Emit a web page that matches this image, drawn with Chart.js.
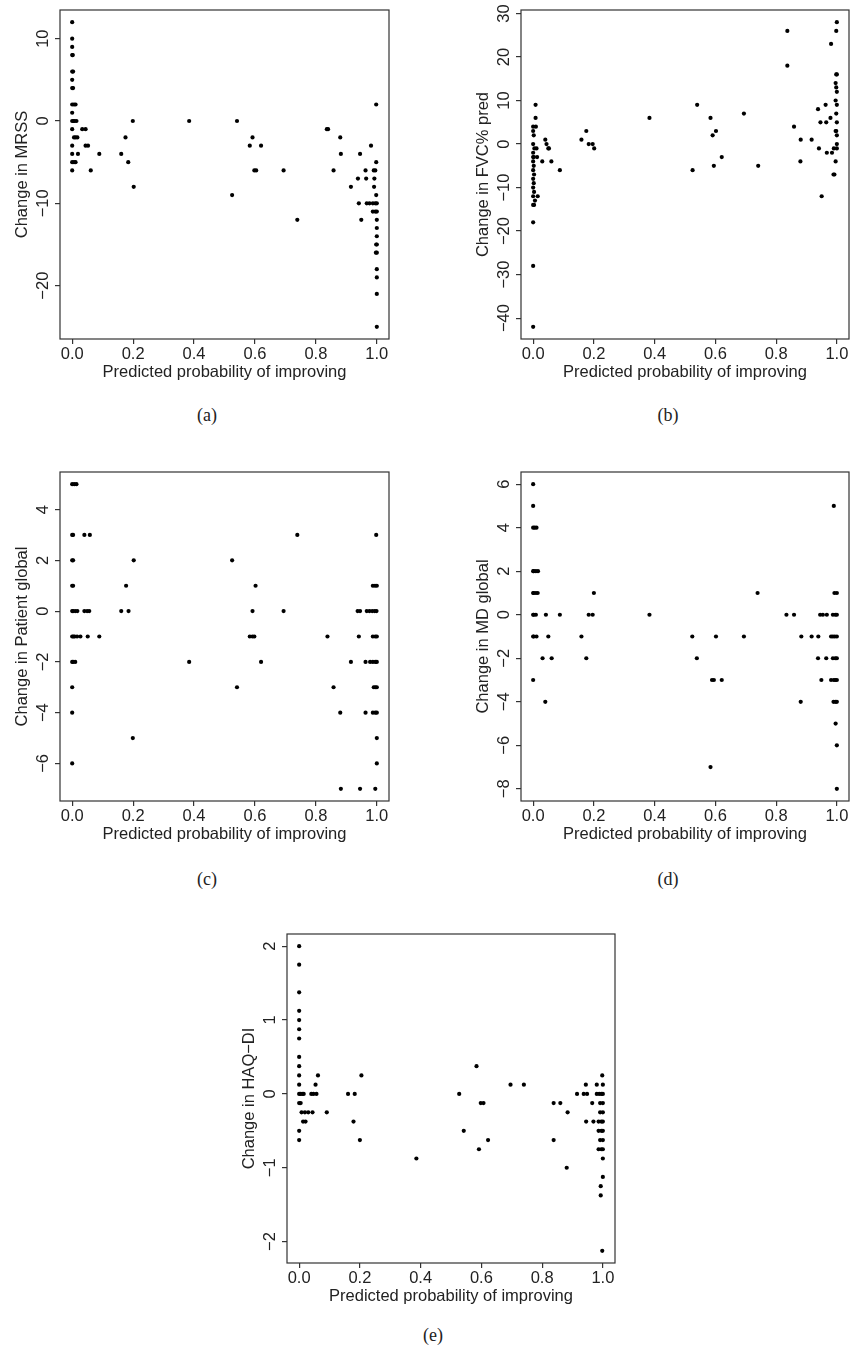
<!DOCTYPE html>
<html>
<head>
  <title>Change in outcome vs predicted probability of improving</title>
  <meta charset="UTF-8" />
  <script src="https://cdn.jsdelivr.net/npm/chart.js"></script>
  <style>
    body {
      margin: 0;
      background: #fff;
      width: 853px;
      height: 1350px;
      position: relative;
      overflow: hidden;
    }
    .panel {
      position: absolute;
    }
    .caption {
      position: absolute;
      font-family: "Liberation Serif", serif;
      font-size: 18px;
      color: #222;
      transform: translate(-50%, -50%);
    }
  </style>
</head>
<body>
  <div class="panel" id="pa"><canvas id="chartA"></canvas></div>
  <div class="panel" id="pb"><canvas id="chartB"></canvas></div>
  <div class="panel" id="pc"><canvas id="chartC"></canvas></div>
  <div class="panel" id="pd"><canvas id="chartD"></canvas></div>
  <div class="panel" id="pe"><canvas id="chartE"></canvas></div>

  <div class="caption" style="left:207px; top:415px">(a)</div>
  <div class="caption" style="left:668px; top:415px">(b)</div>
  <div class="caption" style="left:207px; top:879px">(c)</div>
  <div class="caption" style="left:668px; top:879px">(d)</div>
  <div class="caption" style="left:433px; top:1335px">(e)</div>

  <script>
// shared x axis
const xTickValues = [0, 0.2, 0.4, 0.6, 0.8, 1.0];
const xTitle = 'Predicted probability of improving';

// (a) MRSS
const mrssTicks = [10, 0, -10, -20];
const mrssX = [
  0, 0, 0, 0, 0.002, 0, 0.003, 0, 0, 0.003, 0, 0.006, 0.011, 0, 0, 0.004, 0.008, 0.014,
  0, 0.033, 0.044, 0.006, 0.011, 0.017, 0, 0.044, 0.052, 0, 0.019, 0.089, 0, 0.006, 0.011, 0, 0.061,
  0.161, 0.175, 0.184, 0.199, 0.202, 0.384, 0.525, 0.541, 0.583, 0.592, 0.598, 0.604, 0.620, 0.694,
  0.739, 0.836, 0.840, 0.858, 0.880, 0.882, 0.915, 0.938, 0.941, 0.945, 0.949, 0.963, 0.965, 0.981,
  0.998, 0.998, 0.990, 0.995, 0.992, 0.991, 0.998, 0.967, 0.976, 0.987, 0.995, 1.0, 0.987, 0.995,
  1.0, 1.0, 1.0, 1.0, 0.998, 1.0, 0.997, 1.0, 1.0, 1.0, 1.0, 1.0
];
const mrssY = [
  12, 10, 9, 8, 8, 6, 6, 5, 4, 4, 2, 2, 2, 1, 0, 0, 0, 0,
  -1, -1, -1, -2, -2, -2, -3, -3, -3, -4, -4, -4, -5, -5, -5, -6, -6,
  -4, -2, -5, 0, -8, 0, -9, 0, -3, -2, -6, -6, -3, -6,
  -12, -1, -1, -6, -2, -4, -8, -7, -10, -4, -12, -6, -7, -3,
  2, -5, -6, -6, -7, -8, -9, -10, -10, -10, -10, -10, -11, -11,
  -11, -12, -13, -14, -15, -15, -16, -16, -18, -19, -21, -25
];

// (b) FVC% pred
const fvcTicks = [30, 20, 10, 0, -10, -20, -30, -40];
const fvcX = [
  0, 0, 0, 0.008, 0.008, 0, 0.009, 0, 0.002, 0, 0.004, 0.011, 0, 0.002, 0.013, 0, 0, 0.030,
  0.002, 0, 0.003, 0, 0.002, 0, 0.003, 0, 0.015, 0.006, 0, 0.003,
  0.040, 0.044, 0.050, 0.052, 0.060, 0.088,
  0.159, 0.175, 0.183, 0.196, 0.201, 0.383, 0.525, 0.540, 0.584, 0.591, 0.595, 0.602, 0.621,
  0.694, 0.741, 0.837, 0.837, 0.859, 0.880, 0.881, 0.917, 0.938, 0.941, 0.946, 0.950, 0.963,
  0.965, 0.967, 0.979, 0.981, 0.984,
  0.989, 0.992, 0.990, 0.996, 1.0, 0.998, 0.998, 1.0, 0.996, 0.998, 1.0, 0.996, 1.0, 0.998,
  1.0, 0.996, 1.0, 0.998, 1.0, 1.0
];
const fvcY = [
  -42, -28, -18, 9, 6, 4, 4, 3, 2, 0, -1, -1, -2, -3, -3, -3, -4, -4,
  -5, -6, -7, -8, -9, -10, -11, -12, -12, -13, -14, -14,
  1, 0, -1, -1, -4, -6,
  1, 3, 0, 0, -1, 6, -6, 9, 6, 2, -5, 3, -3,
  7, -5, 26, 18, 4, -4, 1, 1, 8, -1, 5, -12, 9,
  5, -2, 6, 23, -2,
  -7, -7, -1, -4, 28, 26, 16, 16, 14, 13, 12, 10, 9, 7,
  5, 3, 2, 3, 0, -1
];

// (c) Patient global
const patientTicks = [4, 2, 0, -2, -4, -6];
const patientX = [
  0, 0.007, 0.014, 0, 0.003, 0.040, 0.058, 0, 0.003, 0, 0.003, 0, 0.003, 0.010, 0.017, 0.040,
  0.049, 0.056, 0, 0.004, 0.008, 0.016, 0.027, 0.051, 0.089, 0, 0.003, 0.010, 0, 0, 0,
  0.161, 0.177, 0.185, 0.202, 0.199, 0.384, 0.525, 0.541, 0.583, 0.592, 0.598, 0.592, 0.602,
  0.620, 0.694, 0.739, 0.838, 0.858, 0.880, 0.882, 0.915, 0.937, 0.945, 0.941, 0.945, 0.963, 0.963,
  0.967, 0.976, 0.985, 0.993, 0.999, 0.987, 0.994, 1.0, 0.998, 0.987, 0.995, 1.0, 0.978, 0.987,
  0.995, 1.0, 0.990, 0.995, 1.0, 0.987, 0.995, 1.0, 1.0, 1.0, 0.995
];
const patientY = [
  5, 5, 5, 3, 3, 3, 3, 2, 2, 1, 1, 0, 0, 0, 0, 0,
  0, 0, -1, -1, -1, -1, -1, -1, -1, -2, -2, -2, -3, -4, -6,
  0, 1, 0, 2, -5, -2, 2, -3, -1, -1, -1, 0, 1,
  -2, 0, 3, -1, -3, -4, -7, -2, 0, 0, -1, -7, -2, -4,
  0, 0, 0, 0, 0, 1, 1, 1, 3, -1, -1, -1, -2, -2,
  -2, -2, -3, -3, -3, -4, -4, -4, -5, -6, -7
];

// (d) MD global
const mdTicks = [6, 4, 2, 0, -2, -4, -6, -8];
const mdX = [
  0, 0, 0, 0.005, 0.011, 0, 0.002, 0.009, 0.016, 0, 0.002, 0.009, 0.015, 0, 0.002, 0.009,
  0.042, 0.088, 0, 0.002, 0.011, 0.050, 0.031, 0.061, 0, 0.040,
  0.159, 0.175, 0.183, 0.196, 0.200, 0.383, 0.524, 0.539, 0.602, 0.589, 0.595, 0.621, 0.584,
  0.694, 0.739, 0.834, 0.859, 0.883, 0.881, 0.917, 0.939, 0.938, 0.949, 0.945, 0.954, 0.965,
  0.967, 0.981,
  0.990, 0.992, 1.0, 0.987, 0.995, 1.0, 0.987, 0.993, 1.0, 0.987, 0.995, 1.0, 0.981, 0.990,
  0.995, 1.0, 0.989, 0.995, 1.0, 0.996, 1.0, 1.0
];
const mdY = [
  6, 5, 4, 4, 4, 2, 2, 2, 2, 1, 1, 1, 1, 0, 0, 0,
  0, 0, -1, -1, -1, -1, -2, -2, -3, -4,
  -1, -2, 0, 0, 1, 0, -1, -2, -1, -3, -3, -3, -7,
  -1, 1, 0, 0, -1, -4, -1, -1, -2, -3, 0, 0, -2,
  0, -1,
  5, 1, 1, 0, 0, 0, -1, -1, -1, -2, -2, -2, -3, -3,
  -3, -3, -4, -4, -4, -5, -6, -8
];

// (e) HAQ-DI
const haqTicks = [2, 1, 0, -1, -2];
const haqX = [
  0, 0, 0, 0, 0, 0, 0, 0, 0, 0, 0, 0, 0.004, 0.010, 0.015, 0, 0.005, 0.008, 0.019, 0.030,
  0.044, 0.091, 0.013, 0.021, 0, 0, 0.062, 0.054, 0.040, 0.047, 0.057,
  0.161, 0.183, 0.179, 0.200, 0.205, 0.386, 0.527, 0.542, 0.584, 0.592, 0.598, 0.607, 0.622,
  0.696, 0.740, 0.838, 0.860, 0.838, 0.884, 0.881, 0.915, 0.937, 0.948, 0.944, 0.965, 0.945, 0.969,
  0.980, 0.980, 0.988, 0.995, 1.0, 0.998, 1.0, 0.991, 1.0, 0.991, 1.0, 0.986, 0.995, 1.0,
  0.986, 0.995, 1.0, 0.991, 1.0, 0.986, 0.995, 1.0, 1.0, 1.0, 0.993, 0.993, 0.998
];
const haqY = [
  2, 1.75, 1.375, 1.125, 1, 0.875, 0.75, 0.5, 0.375, 0.25, 0.125, 0, 0, 0, 0, -0.125, -0.125, -0.25, -0.25, -0.25,
  -0.25, -0.25, -0.375, -0.375, -0.5, -0.625, 0.25, 0.125, 0, 0, 0,
  0, 0, -0.375, -0.625, 0.25, -0.875, 0, -0.5, 0.375, -0.75, -0.125, -0.125, -0.625,
  0.125, 0.125, -0.125, -0.125, -0.625, -0.25, -1, 0, 0, 0, 0.125, -0.125, -0.375, -0.375,
  0.125, 0, 0, 0, 0, 0.25, 0.125, -0.125, -0.125, -0.25, -0.25, -0.375, -0.375, -0.375,
  -0.5, -0.5, -0.5, -0.625, -0.625, -0.75, -0.75, -0.75, -0.875, -1.125, -1.25, -1.375, -2.125
];

const FONT = '"Liberation Sans", Arial, sans-serif';
const FONT_SIZE = 16.5;
const INK = '#222';
const FRAME = '#333';
const Y_W = 60, X_H = 56, PAD_T = 10, PAD_R = 4;

function fmtY(v) {
  const s = String(Math.abs(v));
  return v < 0 ? '\u2212' + s : s;
}

// R-style box round the plot and rotated y tick labels
const rFrame = {
  id: 'rFrame',
  afterDraw(chart) {
    const { ctx, chartArea: a } = chart;
    const ys = chart.scales.y;
    ctx.save();
    ctx.strokeStyle = FRAME;
    ctx.lineWidth = 1.2;
    ctx.strokeRect(a.left, a.top, a.right - a.left, a.bottom - a.top);
    ctx.fillStyle = INK;
    ctx.font = FONT_SIZE + 'px ' + FONT;
    ctx.textAlign = 'center';
    ctx.textBaseline = 'middle';
    ys.ticks.forEach(t => {
      ctx.save();
      ctx.translate(a.left - 16.5, ys.getPixelForValue(t.value));
      ctx.rotate(-Math.PI / 2);
      ctx.fillText(fmtY(t.value), 0, 0);
      ctx.restore();
    });
    ctx.restore();
  }
};

function makePanel(id, canvasId, box, xs, ys, yTicks, yMin, yMax, yTitle) {
  const el = document.getElementById(id);
  el.style.left = (box[0] - Y_W) + 'px';
  el.style.top = (box[1] - PAD_T) + 'px';
  el.style.width = (box[2] - box[0] + Y_W + PAD_R) + 'px';
  el.style.height = (box[3] - box[1] + PAD_T + X_H) + 'px';

  const points = xs.map((x, i) => ({ x: x, y: ys[i] }));
  const tickGrid = { drawOnChartArea: false, drawTicks: true, tickLength: 5, color: FRAME, lineWidth: 1.2 };
  const font = { family: FONT, size: FONT_SIZE };

  new Chart(document.getElementById(canvasId), {
    type: 'scatter',
    data: {
      datasets: [{
        data: points,
        pointRadius: 2.1,
        pointHoverRadius: 2.1,
        pointBackgroundColor: '#000',
        pointBorderWidth: 0
      }]
    },
    options: {
      responsive: true,
      maintainAspectRatio: false,
      animation: false,
      events: [],
      layout: { padding: { top: PAD_T, right: PAD_R, left: 0, bottom: 0 } },
      plugins: { legend: { display: false }, tooltip: { enabled: false } },
      scales: {
        x: {
          type: 'linear',
          min: -0.04,
          max: 1.04,
          afterBuildTicks: s => { s.ticks = xTickValues.map(v => ({ value: v })); },
          afterFit: s => { s.height = X_H; },
          grid: tickGrid,
          border: { display: false },
          ticks: { color: INK, font: font, padding: 1, maxRotation: 0, autoSkip: false, callback: v => v.toFixed(1) },
          title: { display: true, text: xTitle, color: INK, font: font, padding: { top: 0, bottom: 12.4 } }
        },
        y: {
          type: 'linear',
          min: yMin,
          max: yMax,
          afterBuildTicks: s => { s.ticks = yTicks.map(v => ({ value: v })); },
          afterFit: s => { s.width = Y_W; },
          grid: tickGrid,
          border: { display: false },
          ticks: { display: false },
          title: { display: true, text: yTitle, color: INK, font: font, padding: { top: 12.4, bottom: 0 } }
        }
      }
    },
    plugins: [rFrame]
  });
}

makePanel('pa', 'chartA', [60, 10, 389, 339], mrssX, mrssY, mrssTicks, -26.48, 13.48, 'Change in MRSS');
makePanel('pb', 'chartB', [521, 10, 849, 339], fvcX, fvcY, fvcTicks, -44.8, 30.8, 'Change in FVC% pred');
makePanel('pc', 'chartC', [60, 472, 389, 801], patientX, patientY, patientTicks, -7.48, 5.48, 'Change in Patient global');
makePanel('pd', 'chartD', [521, 472, 849, 801], mdX, mdY, mdTicks, -8.56, 6.56, 'Change in MD global');
makePanel('pe', 'chartE', [287, 934, 615, 1263], haqX, haqY, haqTicks, -2.29, 2.165, 'Change in HAQ\u2212DI');
  </script>
</body>
</html>
